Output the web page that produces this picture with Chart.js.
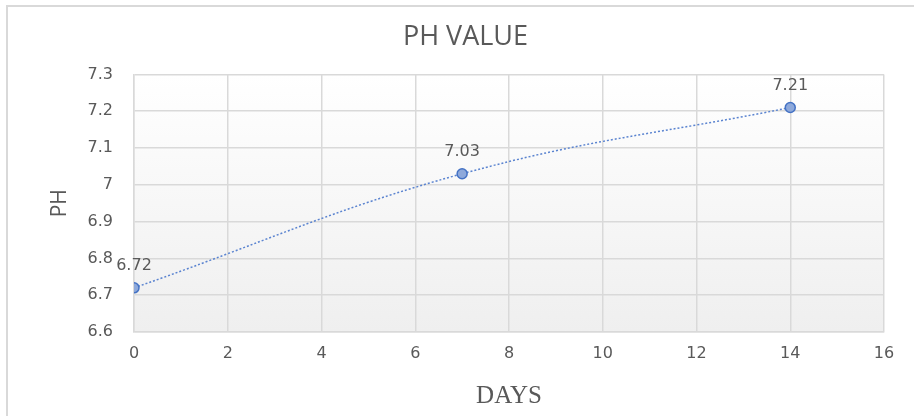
<!DOCTYPE html>
<html>
<head>
<meta charset="utf-8">
<script src="https://cdn.jsdelivr.net/npm/chart.js@4/dist/chart.umd.min.js"></script>
<style>
  html, body { margin: 0; padding: 0; background: #fff; }
  #wrap { width: 914px; height: 416px; position: relative; }
</style>
</head>
<body>
<div id="wrap"><canvas id="ph-chart" width="914" height="416"></canvas></div>
<script>
'use strict';

const days = [0, 7, 14];
const phValues = [6.72, 7.03, 7.21];
const chartTitle = 'PH VALUE';
const xTitle = 'DAYS';
const yTitle = 'PH';

const TEXT = '#595959';
const GRID = '#d9d9d9';

// 바깥 테두리 + 플롯 영역 그라데이션
const backdrop = {
  id: 'backdrop',
  beforeDraw(chart) {
    const { ctx, chartArea: a } = chart;
    ctx.save();
    ctx.fillStyle = '#fff';
    ctx.fillRect(0, 0, chart.width, chart.height);
    ctx.strokeStyle = GRID;
    ctx.lineWidth = 2;
    ctx.beginPath();
    ctx.moveTo(7, chart.height + 2);
    ctx.lineTo(7, 6);
    ctx.lineTo(chart.width + 2, 6);
    ctx.stroke();
    const g = ctx.createLinearGradient(0, a.top, 0, a.bottom);
    g.addColorStop(0, '#ffffff');
    g.addColorStop(1, '#efefef');
    ctx.fillStyle = g;
    ctx.fillRect(a.left, a.top, a.right - a.left, a.bottom - a.top);
    ctx.restore();
  },
};

// 점 위 값 라벨
const valueLabels = {
  id: 'valueLabels',
  afterDatasetsDraw(chart) {
    const { ctx } = chart;
    const meta = chart.getDatasetMeta(0);
    ctx.save();
    ctx.font = '16px "DejaVu Sans"';
    ctx.fillStyle = TEXT;
    ctx.textAlign = 'center';
    ctx.textBaseline = 'middle';
    meta.data.forEach((pt, i) => {
      ctx.fillText(phValues[i].toFixed(2), pt.x, pt.y - 22);
    });
    ctx.restore();
  },
};

new Chart(document.getElementById('ph-chart'), {
  type: 'scatter',
  data: {
    datasets: [{
      data: days.map((d, i) => ({ x: d, y: phValues[i] })),
      showLine: true,
      tension: 0.4,
      borderColor: '#5b84d0',
      borderWidth: 1.5,
      borderDash: [2, 2],
      pointRadius: 5,
      pointBackgroundColor: '#8ea9db',
      pointBorderColor: '#4472c4',
      pointBorderWidth: 1.5,
    }],
  },
  options: {
    responsive: false,
    animation: false,
    layout: { padding: { top: 0, right: 30, bottom: 5, left: 47 } },
    plugins: {
      legend: { display: false },
      tooltip: { enabled: false },
      title: {
        display: true,
        text: chartTitle,
        color: TEXT,
        font: { family: '"Open Sans"', size: 27, weight: 'normal' },
        padding: { top: 21, bottom: 21 },
      },
    },
    scales: {
      x: {
        type: 'linear',
        min: 0,
        max: 16,
        ticks: {
          stepSize: 2,
          color: TEXT,
          padding: 12,
          font: { family: '"DejaVu Sans"', size: 16 },
        },
        grid: { color: GRID, lineWidth: 1.5, drawTicks: false },
        border: { color: GRID, width: 1.5 },
        title: {
          display: true,
          text: xTitle,
          color: TEXT,
          font: { family: '"Liberation Serif"', size: 25 },
          padding: 0,
        },
        afterFit(scale) { scale.height = 79; },
      },
      y: {
        min: 6.6,
        max: 7.3,
        ticks: {
          stepSize: 0.1,
          color: TEXT,
          padding: 21,
          font: { family: '"DejaVu Sans"', size: 16 },
          callback: (v) => Math.round(v * 10) / 10,
        },
        grid: { color: GRID, lineWidth: 1.5, drawTicks: false },
        border: { color: GRID, width: 1.5 },
        title: {
          display: true,
          text: yTitle,
          color: TEXT,
          font: { family: '"Open Sans"', size: 21 },
          padding: 0,
        },
        afterFit(scale) { scale.width = 87; },
      },
    },
  },
  plugins: [backdrop, valueLabels],
});
</script>
</body>
</html>
